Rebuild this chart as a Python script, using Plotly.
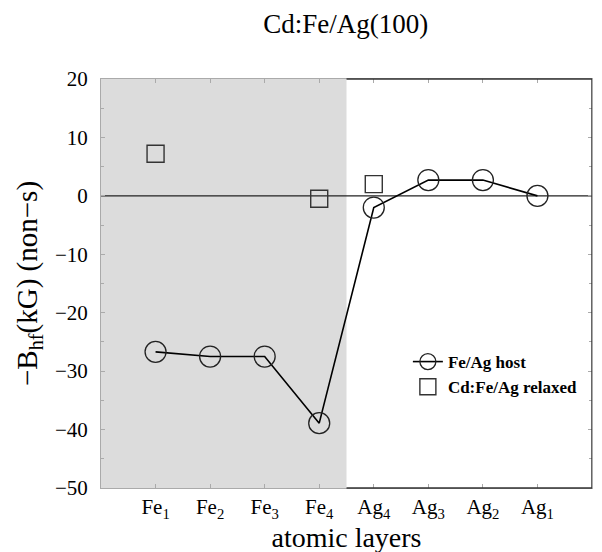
import plotly.graph_objects as go

layers = ["Fe<sub>1</sub>", "Fe<sub>2</sub>", "Fe<sub>3</sub>", "Fe<sub>4</sub>",
          "Ag<sub>4</sub>", "Ag<sub>3</sub>", "Ag<sub>2</sub>", "Ag<sub>1</sub>"]
positions = [1, 2, 3, 4, 5, 6, 7, 8]
host_values = [-26.7, -27.5, -27.5, -38.9, -2.0, 2.7, 2.7, 0.0]
relaxed_positions = [1, 4, 5]
relaxed_values = [7.2, -0.5, 2.0]
y_ticks = [-50, -40, -30, -20, -10, 0, 10, 20]

FONT = "Liberation Serif, Times New Roman, serif"

fig = go.Figure()
fig.add_trace(go.Scatter(
    x=positions, y=host_values, mode="lines+markers", name="Fe/Ag host",
    line=dict(color="black", width=1.6),
    marker=dict(symbol="circle-open", size=21, color="#222", line=dict(width=1.3)),
))
fig.add_trace(go.Scatter(
    x=relaxed_positions, y=relaxed_values, mode="markers", name="Cd:Fe/Ag relaxed",
    marker=dict(symbol="square-open", size=17, color="#333", line=dict(width=1.4)),
))

# shaded Fe region
fig.add_shape(type="rect", xref="x", yref="paper", x0=0, x1=4.5, y0=0, y1=1,
              fillcolor="#dcdcdc", line=dict(width=0), layer="below")
# zero line
fig.add_shape(type="line", xref="paper", yref="y", x0=0, x1=1, y0=0, y1=0,
              line=dict(color="#222", width=1.2), layer="below")
# dark frame around the unshaded part
for (x0, x1, y0, y1) in [(4.5, 9, 0, 0), (4.5, 9, 1, 1), (9, 9, 0, 1)]:
    fig.add_shape(type="line", xref="x", yref="paper", x0=x0, x1=x1, y0=y0, y1=y1,
                  line=dict(color="#333", width=1.5))

fig.update_layout(
    width=602, height=552,
    margin=dict(l=93, r=18, t=71, b=72),
    paper_bgcolor="white", plot_bgcolor="white",
    font=dict(family=FONT, color="black"),
    title=dict(text="Cd:Fe/Ag(100)", x=0.561, xanchor="center", y=0.971, yanchor="middle",
               font=dict(family=FONT, size=27)),
    showlegend=True,
    legend=dict(x=0.625, y=0.352, xanchor="left", yanchor="top",
                bgcolor="rgba(0,0,0,0)", font=dict(family=FONT, size=17, weight="bold"),
                tracegroupgap=0),
)
fig.update_xaxes(
    range=[0, 9], tickvals=positions, ticktext=layers,
    showgrid=False, zeroline=False, showline=True, linecolor="#aaa", linewidth=1,
    mirror="ticks", ticks="inside", ticklen=4, tickcolor="#aaa",
    tickfont=dict(family=FONT, size=21),
    title=dict(text="atomic layers", font=dict(family=FONT, size=28), standoff=0),
)
fig.update_yaxes(
    range=[-50, 20], tickvals=y_ticks,
    showgrid=False, zeroline=False, showline=True, linecolor="#aaa", linewidth=1,
    mirror="ticks", ticks="inside", ticklen=4, tickcolor="#aaa",
    minor=dict(dtick=5, ticks="inside", ticklen=3, tickcolor="#aaa"),
    tickfont=dict(family=FONT, size=21), ticklabelstandoff=8,
    title=dict(text="−B<sub>hf</sub>(kG) (non−s)", font=dict(family=FONT, size=29), standoff=8),
)

fig.write_html("out.html")
